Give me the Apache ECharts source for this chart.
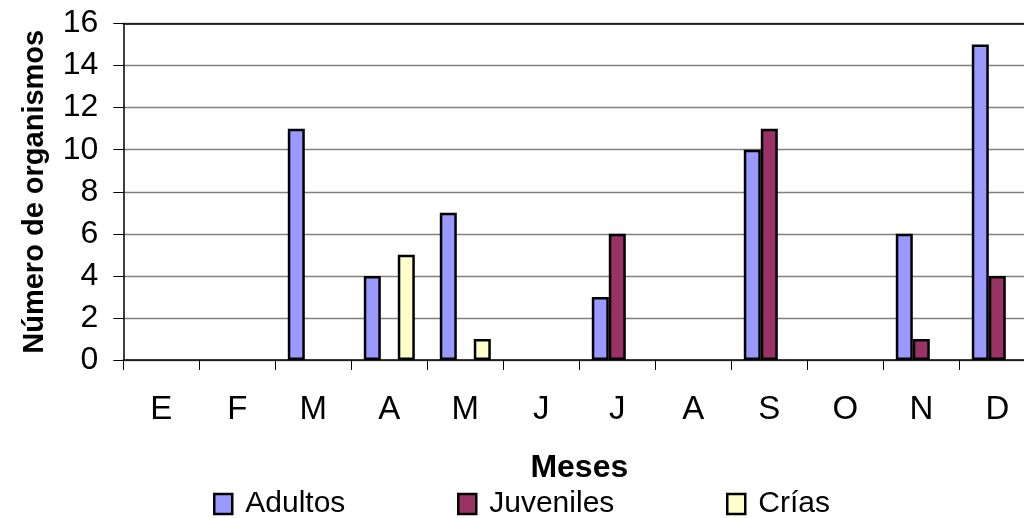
<!DOCTYPE html>
<html>
<head>
<meta charset="utf-8">
<script src="https://cdn.jsdelivr.net/npm/echarts@6/dist/echarts.min.js"></script>
<style>html,body{margin:0;padding:0;background:#fff;overflow:hidden;}#c{width:1040px;height:518px;}</style>
</head>
<body>
<div id="c"></div>
<script>
const months = ['E','F','M','A','M','J','J','A','S','O','N','D'];
const adultos   = [0, 0, 11, 4, 7, 0, 3, 0, 10, 0, 6, 15];
const juveniles = [0, 0, 0, 0, 0, 0, 6, 0, 11, 0, 1, 4];
const crias     = [0, 0, 0, 5, 1, 0, 0, 0, 0, 0, 0, 0];
const yTicks = [0, 2, 4, 6, 8, 10, 12, 14, 16];

const FONT = '"Liberation Sans", Arial, sans-serif';
const chart = echarts.init(document.getElementById('c'), null, {renderer: 'canvas'});

function barSeries(name, data, color) {
  return {
    name: name, type: 'bar', data: data.map(v => v === 0 ? '-' : v),
    barWidth: 17, barGap: '0%',
    itemStyle: {color: color, borderColor: '#000', borderWidth: 2.5},
    emphasis: {disabled: true}
  };
}
function legendAt(name, left) {
  return {
    data: [name], left: left, top: 489, padding: 0,
    itemWidth: 18, itemHeight: 20, icon: 'rect', selectedMode: false,
    itemStyle: {borderColor: '#000', borderWidth: 2.5},
    textStyle: {fontFamily: FONT, fontSize: 30, color: '#000', padding: [0, 0, 0, 8]}
  };
}

chart.setOption({
  animation: false,
  backgroundColor: '#fff',
  grid: {left: 123.3, width: 912, top: 23.5, height: 336.5, containLabel: false},
  legend: [legendAt('Adultos', 213), legendAt('Juveniles', 457), legendAt('Crías', 726)],
  xAxis: [{
    type: 'category', data: months, position: 'bottom',
    axisLine: {lineStyle: {color: '#000', width: 1.5}},
    axisTick: {show: true, length: 10, lineStyle: {color: '#000', width: 1}},
    axisLabel: {fontFamily: FONT, fontSize: 33, color: '#000', margin: 33},
    name: 'Meses', nameLocation: 'middle', nameGap: 92,
    nameTextStyle: {fontFamily: FONT, fontSize: 32, fontWeight: 'bold', color: '#000'}
  }, {
    type: 'category', data: months, position: 'top',
    axisLine: {lineStyle: {color: '#000', width: 1.5}},
    axisTick: {show: false}, axisLabel: {show: false}
  }],
  yAxis: {
    type: 'value', min: yTicks[0], max: yTicks[yTicks.length - 1], interval: 2,
    axisLine: {show: true, lineStyle: {color: '#000', width: 1.5}},
    axisTick: {show: true, length: 10, lineStyle: {color: '#000', width: 1}},
    axisLabel: {fontFamily: FONT, fontSize: 32, color: '#000', margin: 25},
    splitLine: {show: true, lineStyle: {color: '#808080', width: 1.3}},
    name: 'Número de organismos', nameLocation: 'middle', nameGap: 74,
    nameTextStyle: {fontFamily: FONT, fontSize: 29, fontWeight: 'bold', color: '#000'}
  },
  series: [
    barSeries('Adultos', adultos, '#9999FF'),
    barSeries('Juveniles', juveniles, '#993366'),
    barSeries('Crías', crias, '#FFFFCC')
  ]
});
</script>
</body>
</html>
